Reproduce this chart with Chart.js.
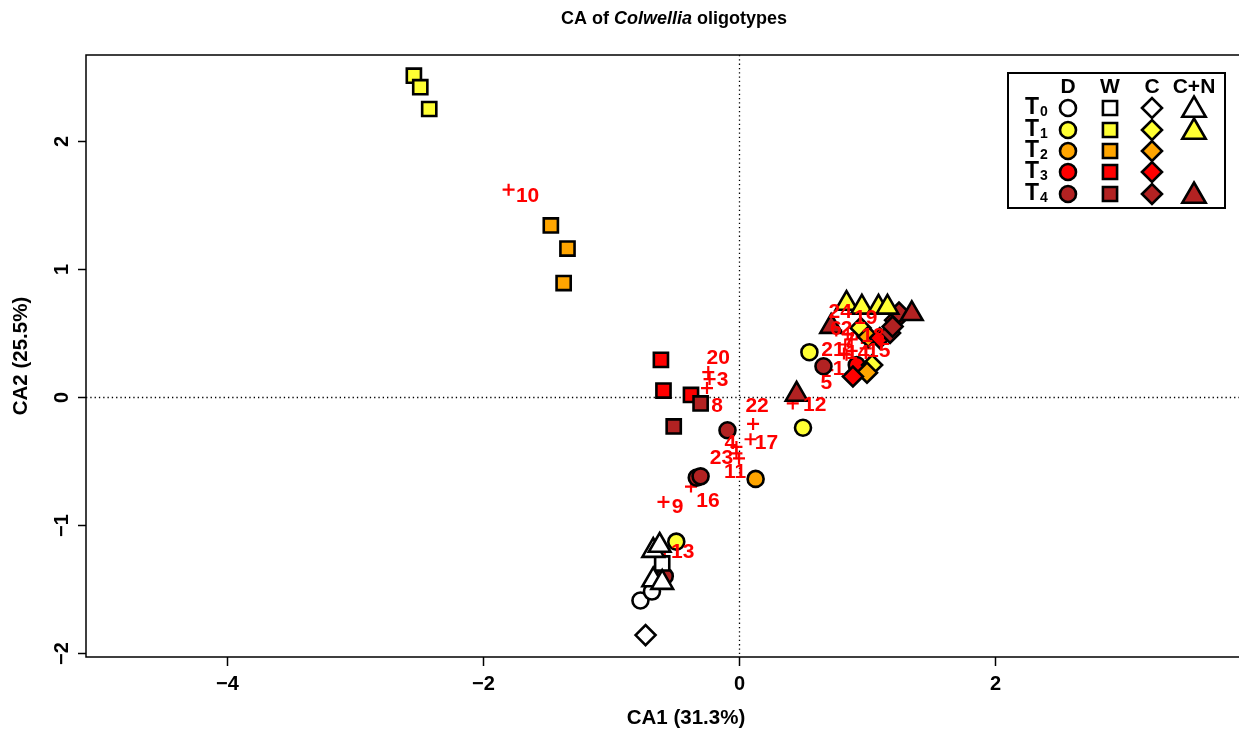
<!DOCTYPE html>
<html><head><meta charset="utf-8">
<script src="https://cdn.jsdelivr.net/npm/chart.js@4"></script>
<style>html,body{margin:0;padding:0;background:#fff}canvas{display:block}</style>
</head><body>
<canvas id="c" width="1239" height="731"></canvas>
<script>
// ---- tick labels ----
const xTicks = [-4, -2, 0, 2];
const yTicks = [-2, -1, 0, 1, 2];
const timeLabels = ['0', '1', '2', '3', '4'];
const treatmentLabels = ['D', 'W', 'C', 'C+N'];

// ---- sample scores (CA1, CA2) ----
// D = circles
const D_T0 = [[-0.77, -1.59], [-0.68, -1.52]];
const D_T1 = [[0.55, 0.35], [0.50, -0.24], [-0.49, -1.13]];
const D_T2 = [[0.13, -0.64]];
const D_T3 = [[0.92, 0.25]];
const D_T4 = [[-0.58, -1.40], [-0.09, -0.26], [-0.33, -0.63], [-0.30, -0.62], [0.66, 0.24]];
// W = squares
const W_T0 = [[-0.60, -1.30]];
const W_T1 = [[-2.54, 2.51], [-2.49, 2.42], [-2.42, 2.25]];
const W_T2 = [[-1.47, 1.34], [-1.34, 1.16], [-1.37, 0.89]];
const W_T3 = [[-0.61, 0.29], [-0.59, 0.05], [-0.375, 0.016]];
const W_T4 = [[-0.30, -0.05], [-0.51, -0.23]];
// C = diamonds
const C_T0 = [[-0.73, -1.86]];
const C_T1 = [[0.95, 0.54], [1.04, 0.25]];
const C_T2 = [[1.01, 0.47], [1.00, 0.19]];
const C_T3 = [[0.89, 0.16], [1.10, 0.46], [1.22, 0.60]];
const C_T4 = [[1.18, 0.50], [1.20, 0.55], [1.25, 0.66]];
// C+N = triangles
const CN_T0 = [[-0.67, -1.43], [-0.60, -1.45], [-0.67, -1.20], [-0.62, -1.16]];
const CN_T1 = [[0.84, 0.73], [0.96, 0.70], [1.09, 0.70], [1.16, 0.70]];
const CN_T4 = [[0.45, 0.02], [0.72, 0.55], [1.35, 0.65]];

// ---- oligotype (species) scores ----
const speciesIds = ['1','2','3','4','5','6','7','8','9','10','11','12','13','14','15','16','17','18','19','20','21','22','23','24'];
const speciesX = [0.84, 0.88, -0.23, -0.02, 0.69, 0.85, 0.83, -0.25, -0.59, -1.80, 0.00, 0.42, -0.58, 0.88, 0.99, -0.375, 0.09, 0.96, 0.92, -0.24, 0.82, 0.11, -0.02, 0.76];
const speciesY = [0.33, 0.45, 0.14, -0.39, 0.21, 0.49, 0.41, 0.07, -0.82, 1.62, -0.48, -0.05, -1.20, 0.36, 0.38, -0.70, -0.33, 0.46, 0.50, 0.195, 0.34, -0.21, -0.44, 0.52];
// label placement (pixel offsets from the + mark)
const labelDx = [-8, -5, 13, -6, -1, -12, 4, 10, 14, 19, -4, 22, 18, 6, 13, 17, 16, 11, 9, 10, -11, 4, -15, 4];
const labelDy = [14, -10, 1, -4, 13, -5, -3, 18, 5, 7, 14, 2, 2, 2, 3, 15, 4, -2, -15, -14, -3, -18, 5, -18];

// ---- styles ----
const COLORS = ['#FFFFFF', '#FFFF33', '#FFA500', '#FF0000', '#B22222'];
const SHAPES = { D: 'circle', W: 'rect', C: 'rectRot', CN: 'triangle' };
const RADII = { D: 8, W: 10, C: 10, CN: 12.5 };
const FONT = '"Liberation Sans", Arial, Helvetica, sans-serif';

const groups = [
  ['D', 0, D_T0], ['D', 1, D_T1], ['D', 2, D_T2], ['D', 3, D_T3], ['D', 4, D_T4],
  ['W', 0, W_T0], ['W', 1, W_T1], ['W', 2, W_T2], ['W', 3, W_T3], ['W', 4, W_T4],
  ['C', 0, C_T0], ['C', 1, C_T1], ['C', 2, C_T2], ['C', 3, C_T3], ['C', 4, C_T4],
  ['CN', 0, CN_T0], ['CN', 1, CN_T1], ['CN', 4, CN_T4]
];

const datasets = [];
datasets.push({
  label: 'species',
  data: speciesX.map((x, i) => ({ x: x, y: speciesY[i] })),
  pointStyle: 'cross', pointRadius: 6, borderColor: '#FF0000', borderWidth: 2.2,
  backgroundColor: '#FF0000', showLine: false
});
groups.forEach(([t, ti, arr]) => {
  datasets.push({
    label: t + ' T' + ti,
    data: arr.map(p => ({ x: p[0], y: p[1] })),
    pointStyle: SHAPES[t], pointRadius: RADII[t],
    backgroundColor: COLORS[ti], borderColor: '#000000', borderWidth: 2.6,
    showLine: false
  });
});
const N = datasets.length;
datasets.forEach((d, i) => { d.order = N - i; });

function drawShape(ctx, shape, x, y, r, fill) {
  ctx.save();
  ctx.beginPath();
  if (shape === 'circle') {
    ctx.arc(x, y, r, 0, Math.PI * 2);
  } else if (shape === 'rect') {
    const s = r * Math.SQRT1_2;
    ctx.rect(x - s, y - s, 2 * s, 2 * s);
  } else if (shape === 'rectRot') {
    ctx.moveTo(x - r, y); ctx.lineTo(x, y - r); ctx.lineTo(x + r, y); ctx.lineTo(x, y + r); ctx.closePath();
  } else if (shape === 'triangle') {
    ctx.moveTo(x, y - r);
    ctx.lineTo(x + r * 0.866, y + r / 2);
    ctx.lineTo(x - r * 0.866, y + r / 2);
    ctx.closePath();
  }
  ctx.fillStyle = fill; ctx.fill();
  ctx.lineWidth = 2.6; ctx.strokeStyle = '#000'; ctx.stroke();
  ctx.restore();
}

const decor = {
  id: 'decor',
  beforeDatasetsDraw(chart) {
    const { ctx, chartArea: a, scales: { x, y } } = chart;
    ctx.save();
    ctx.strokeStyle = '#000'; ctx.lineWidth = 1.3; ctx.setLineDash([1.3, 3]);
    const x0 = Math.round(x.getPixelForValue(0)) + 0.5;
    const y0 = Math.round(y.getPixelForValue(0)) + 0.5;
    ctx.beginPath(); ctx.moveTo(x0, a.top); ctx.lineTo(x0, a.bottom); ctx.stroke();
    ctx.beginPath(); ctx.moveTo(a.left, y0); ctx.lineTo(a.right, y0); ctx.stroke();
    ctx.restore();
  },
  afterDatasetsDraw(chart) {
    const { ctx, scales: { x, y } } = chart;
    ctx.save();
    ctx.fillStyle = '#FF0000';
    ctx.font = 'bold 21px ' + FONT;
    ctx.textAlign = 'center'; ctx.textBaseline = 'middle';
    speciesIds.forEach((id, i) => {
      const px = x.getPixelForValue(speciesX[i]) + labelDx[i];
      const py = y.getPixelForValue(speciesY[i]) + labelDy[i];
      ctx.fillText(id, px, py);
    });
    ctx.restore();
  },
  afterDraw(chart) {
    const { ctx, chartArea: a, scales: { x, y } } = chart;
    ctx.save();
    // frame
    ctx.strokeStyle = '#000'; ctx.lineWidth = 1.5;
    ctx.beginPath();
    ctx.moveTo(a.right + 2, a.top); ctx.lineTo(a.left, a.top); ctx.lineTo(a.left, a.bottom); ctx.lineTo(a.right + 2, a.bottom);
    ctx.stroke();
    // x ticks
    ctx.fillStyle = '#000';
    ctx.font = 'bold 20px ' + FONT;
    ctx.textAlign = 'center'; ctx.textBaseline = 'middle';
    xTicks.forEach(v => {
      const px = Math.round(x.getPixelForValue(v)) + 0.5;
      ctx.beginPath(); ctx.moveTo(px, a.bottom); ctx.lineTo(px, a.bottom + 9); ctx.stroke();
      ctx.fillText(v < 0 ? '\u2212' + Math.abs(v) : String(v), px, a.bottom + 27);
    });
    // y ticks
    yTicks.forEach(v => {
      const py = Math.round(y.getPixelForValue(v)) + 0.5;
      ctx.beginPath(); ctx.moveTo(a.left, py); ctx.lineTo(a.left - 8, py); ctx.stroke();
      ctx.save();
      ctx.translate(a.left - 24, py);
      ctx.rotate(-Math.PI / 2);
      ctx.fillText(v < 0 ? '\u2212' + Math.abs(v) : String(v), 0, 0);
      ctx.restore();
    });
    // axis titles
    ctx.font = 'bold 20.5px ' + FONT;
    ctx.fillText('CA1 (31.3%)', 686, 718);
    ctx.save();
    ctx.translate(21, 356);
    ctx.rotate(-Math.PI / 2);
    ctx.fillText('CA2 (25.5%)', 0, 0);
    ctx.restore();
    // title with italic genus
    const parts = [['CA of ', 'bold'], ['Colwellia', 'bold italic'], [' oligotypes', 'bold']];
    let total = 0;
    parts.forEach(p => { ctx.font = p[1] + ' 18px ' + FONT; total += ctx.measureText(p[0]).width; });
    let tx = 674 - total / 2;
    ctx.textAlign = 'left';
    parts.forEach(p => { ctx.font = p[1] + ' 18px ' + FONT; ctx.fillText(p[0], tx, 19); tx += ctx.measureText(p[0]).width; });
    // legend
    ctx.lineWidth = 2;
    ctx.strokeStyle = '#000';
    ctx.fillStyle = '#fff';
    ctx.fillRect(1008, 73, 217, 135);
    ctx.strokeRect(1008, 73, 217, 135);
    ctx.fillStyle = '#000';
    ctx.textAlign = 'center';
    ctx.font = 'bold 21px ' + FONT;
    const colX = [1068, 1110, 1152, 1194];
    const rowY = [108, 130, 151, 172, 194];
    treatmentLabels.forEach((t, i) => ctx.fillText(t, colX[i], 87));
    timeLabels.forEach((t, i) => {
      ctx.textAlign = 'left';
      ctx.font = 'bold 23px ' + FONT;
      ctx.fillText('T', 1025, rowY[i]);
      ctx.font = 'bold 14px ' + FONT;
      ctx.fillText(t, 1040, rowY[i] + 4);
    });
    const keys = ['D', 'W', 'C', 'CN'];
    const present = { D: [0,1,2,3,4], W: [0,1,2,3,4], C: [0,1,2,3,4], CN: [0,1,4] };
    keys.forEach((k, ci) => {
      present[k].forEach(ti => {
        const r = k === 'CN' ? 13.5 : k === 'C' ? 10 : k === 'W' ? 10 : 8;
        drawShape(ctx, SHAPES[k], colX[ci], rowY[ti] + (k === 'CN' ? 2 : 0), r, COLORS[ti]);
      });
    });
    ctx.restore();
  }
};

new Chart(document.getElementById('c'), {
  type: 'scatter',
  data: { datasets: datasets },
  options: {
    responsive: false,
    animation: false,
    layout: { autoPadding: false, padding: { left: 86, top: 55, right: 0, bottom: 74 } },
    plugins: { legend: { display: false }, tooltip: { enabled: false }, title: { display: false } },
    scales: {
      x: { type: 'linear', min: -5.1016, max: 3.9063, display: false },
      y: { type: 'linear', min: -2.03125, max: 2.671875, display: false }
    }
  },
  plugins: [decor]
});
</script>
</body></html>
